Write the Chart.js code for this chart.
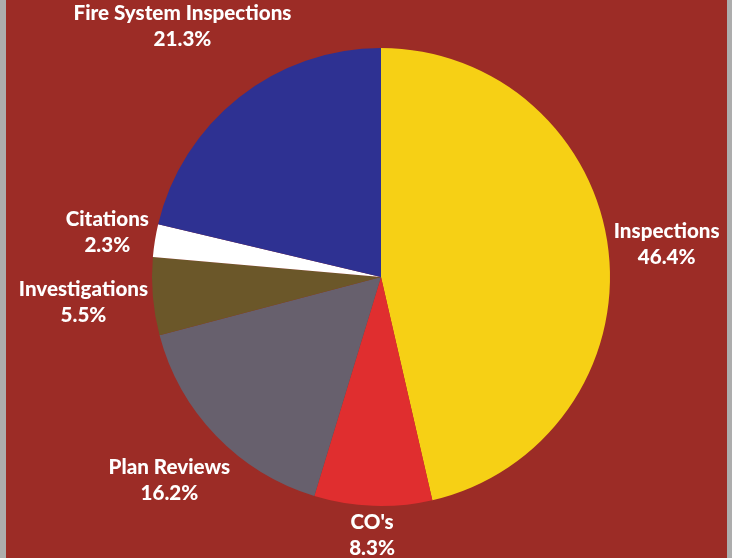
<!DOCTYPE html>
<html>
<head>
<meta charset="utf-8">
<script src="https://cdn.jsdelivr.net/npm/chart.js@4/dist/chart.umd.min.js"></script>
<style>
  html, body { margin: 0; padding: 0; background: #adadad; }
  #wrap {
    width: 732px; height: 558px; box-sizing: border-box;
    border-left: 6px solid #adadad; border-right: 5px solid #adadad;
    background: #9c2c26; position: relative;
  }
</style>
</head>
<body>
<div id="wrap"><canvas id="myChart"></canvas></div>
<script>
const labels = ["Inspections", "CO's", "Plan Reviews", "Investigations", "Citations", "Fire System Inspections"];
const values = [46.4, 8.3, 16.2, 5.5, 2.3, 21.3];
const colors = ["#f6d015", "#e02e2f", "#67606d", "#6b5729", "#ffffff", "#2e3192"];

// labels outside the pie, centred on the slice's ray just past the edge
const outsideLabels = {
  id: "outsideLabels",
  afterDatasetsDraw(chart) {
    const ctx = chart.ctx;
    const meta = chart.getDatasetMeta(0);
    const lh = 26;
    const gap = 3;
    ctx.save();
    ctx.font = "900 20.6px Lato";
    ctx.fillStyle = "#ffffff";
    ctx.textAlign = "center";
    ctx.textBaseline = "middle";
    meta.data.forEach((arc, i) => {
      const { x, y, startAngle, endAngle, outerRadius } = arc.getProps(["x", "y", "startAngle", "endAngle", "outerRadius"]);
      const mid = (startAngle + endAngle) / 2;
      const line1 = labels[i];
      const line2 = values[i].toFixed(1) + "%";
      const w = Math.max(ctx.measureText(line1).width, ctx.measureText(line2).width);
      const h = lh * 2;
      const c = Math.cos(mid), s = Math.sin(mid);
      const d = outerRadius + gap + Math.abs(c) * w / 2 + Math.abs(s) * h / 2;
      const cx = x + c * d, cy = y + s * d;
      ctx.fillText(line1, cx, cy - lh / 2);
      ctx.fillText(line2, cx, cy + lh / 2);
    });
    ctx.restore();
  }
};

const config = {
  type: "pie",
  data: {
    labels: labels,
    datasets: [{
      data: values,
      backgroundColor: colors,
      borderWidth: 0
    }]
  },
  options: {
    responsive: true,
    maintainAspectRatio: false,
    animation: false,
    layout: { padding: { top: 48, bottom: 52, left: 130, right: 101 } },
    plugins: {
      legend: { display: false },
      tooltip: { enabled: false }
    }
  },
  plugins: [outsideLabels]
};

const myChart = new Chart(document.getElementById("myChart"), config);
</script>
</body>
</html>
